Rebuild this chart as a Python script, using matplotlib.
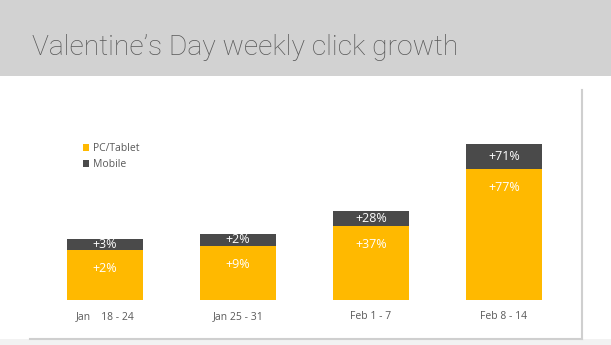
import matplotlib.pyplot as plt
from matplotlib.patches import Rectangle

# Weekly click volume (relative bar heights)
weeks = ["Jan    18 - 24", "Jan 25 - 31", "Feb 1 - 7", "Feb 8 - 14"]
pc_tablet = [50, 54, 74, 131]
mobile = [11, 12, 15, 25]
pc_labels = ["+2%", "+9%", "+37%", "+77%"]
mobile_labels = ["+3%", "+2%", "+28%", "+71%"]

ORANGE = "#FFB900"
DARK = "#4A4A4A"
TEXT = "#595959"

W, H = 611, 345
fig = plt.figure(figsize=(W / 100, H / 100), dpi=100)
fig.patch.set_facecolor("white")

# background layer in pixel coordinates
bg = fig.add_axes([0, 0, 1, 1])
bg.set_xlim(0, W)
bg.set_ylim(H, 0)
bg.axis("off")
bg.add_patch(Rectangle((0, 0), W, 76, facecolor="#D2D2D2", edgecolor="none"))
bg.add_patch(Rectangle((0, 339), W, 6, facecolor="#F2F2F2", edgecolor="none"))
bg.plot([582, 582], [90, 339], color="#CFCFCF", lw=1.5)
bg.plot([30, 582], [339, 339], color="#CFCFCF", lw=1.5)
bg.text(32, 55, "Valentine\u2019s Day weekly click growth", fontsize=20.3,
        family="Roboto", fontweight="light", color=TEXT, va="baseline")

# chart area
left, right, bottom, top = 38.5, 570.5, 300, 90
ax = fig.add_axes([left / W, 1 - bottom / H, (right - left) / W, (bottom - top) / H])
ax.set_xlim(-0.5, len(weeks) - 0.5)
ax.set_ylim(0, bottom - top)
ax.axis("off")

x = range(len(weeks))
b1 = ax.bar(x, pc_tablet, width=0.571, color=ORANGE, label="PC/Tablet")
b2 = ax.bar(x, mobile, width=0.571, bottom=pc_tablet, color=DARK, label="Mobile")

for i in x:
    ax.annotate(pc_labels[i], (i, pc_tablet[i]), xytext=(0, -13), textcoords="offset points",
                ha="center", va="center", color="white", fontsize=9, family="Open Sans")
    ax.text(i, pc_tablet[i] + mobile[i] / 2, mobile_labels[i], ha="center", va="center",
            color="white", fontsize=9, family="Open Sans")
    ax.annotate(weeks[i], (i, 0), xytext=(0, -12), textcoords="offset points",
                ha="center", va="center", color=TEXT, fontsize=7.5, family="Open Sans")

ax.legend(handles=[b1, b2], loc="upper left", bbox_to_anchor=(78 / W, 1 - 138 / H),
          bbox_transform=fig.transFigure, frameon=False,
          handlelength=0.6, handleheight=0.6, handletextpad=0.3, labelspacing=0.5,
          borderpad=0, prop={"family": "Open Sans", "size": 7.5}, labelcolor=TEXT)

fig.savefig("out.png", dpi=100)
